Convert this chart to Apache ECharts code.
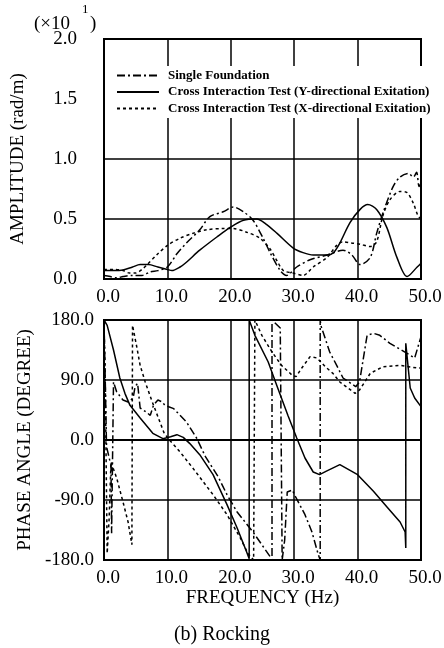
<!DOCTYPE html>
<html><head><meta charset="utf-8">
<script src="https://cdn.jsdelivr.net/npm/echarts@6/dist/echarts.min.js"></script>
<style>html,body{margin:0;padding:0;background:#fff}#c{width:444px;height:648px}</style>
</head><body><div id="c"></div>
<script>
const seriesNames = ['Single Foundation', 'Cross Interaction Test (Y-directional Exitation)', 'Cross Interaction Test (X-directional Exitation)'];

// ---- Amplitude (x10 rad/m) ----
const ampFreqSingle = [0, 1, 2, 3, 4.5, 6, 7.3, 8.5, 10, 11.5, 13, 15.1, 16.7, 18.8, 20.4, 22, 23.5, 25, 26.2, 27.8, 28.8, 30.4, 32.5, 35.2, 37.7, 39.1, 40.4, 42, 43, 44, 45.6, 46.7, 48, 48.8, 49.3, 49.7, 50];
const ampSingle     = [0.03, 0.02, 0.01, 0.02, 0.03, 0.03, 0.06, 0.07, 0.10, 0.21, 0.30, 0.41, 0.52, 0.56, 0.60, 0.56, 0.49, 0.35, 0.22, 0.07, 0.03, 0.10, 0.16, 0.20, 0.24, 0.20, 0.12, 0.18, 0.38, 0.55, 0.77, 0.85, 0.88, 0.85, 0.89, 0.77, 0.80];

const ampFreqY = [0, 1.5, 3, 4.5, 5.7, 7, 8.5, 10, 10.7, 12, 13, 15.1, 17.8, 19.9, 22, 24.1, 25.5, 27.3, 29.8, 31.4, 33, 35.2, 36.2, 37.2, 38.8, 40.4, 41.6, 43, 44.6, 46.2, 47.8, 49.4, 50];
const ampY     = [0.07, 0.07, 0.075, 0.10, 0.12, 0.12, 0.10, 0.08, 0.07, 0.10, 0.14, 0.24, 0.35, 0.43, 0.49, 0.50, 0.46, 0.38, 0.26, 0.22, 0.20, 0.20, 0.22, 0.30, 0.47, 0.58, 0.62, 0.58, 0.43, 0.18, 0.02, 0.10, 0.13];

const ampFreqX = [0, 1.5, 3, 4, 5, 6, 6.8, 8.3, 10, 12, 14, 16.2, 18.8, 20.4, 22.5, 24.6, 26.2, 27.3, 28.3, 29.8, 31.4, 33, 35.2, 36.7, 37.7, 39, 40.4, 42, 43, 44, 45.1, 46.7, 47.8, 48.8, 49.5, 50];
const ampX     = [0.08, 0.08, 0.07, 0.05, 0.05, 0.08, 0.12, 0.20, 0.28, 0.34, 0.38, 0.41, 0.42, 0.42, 0.39, 0.34, 0.25, 0.15, 0.07, 0.05, 0.03, 0.10, 0.18, 0.28, 0.31, 0.30, 0.29, 0.27, 0.31, 0.53, 0.66, 0.73, 0.72, 0.63, 0.53, 0.50];

// ---- Phase angle (degree) ----
const phFreqSingle = [0, 0.2, 0.4, 0.9, 1.1, 1.2, 1.4, 1.5, 2, 3, 3.8, 4.6, 4.9, 5.3, 5.7, 6.5, 7.3, 7.8, 8.5, 9.2, 9.6, 11, 13, 14.6, 16, 18, 19.4, 21, 23.5, 24.6, 26.2, 26.5, 26.5, 27.8, 28.1, 28.1, 28.5, 28.9, 29.7, 30.2, 31.7, 32.8, 33.8, 34.1, 34.1, 34.2, 35.6, 36.7, 37.7, 39.7, 40.3, 41.5, 42.5, 43.5, 45.1, 47.8, 49, 50];
const phSingle     = [180, 90, -10, -30, -35, -140, -140, 87, 72, 60, 57, 63, 80, 85, 48, 43, 37, 52, 60, 57, 52, 47, 27, 3, -25, -55, -82, -108, -138, -153, -175, -180, 180, 168, 165, -180, -150, -78, -75, -85, -112, -138, -172, -180, 180, 172, 132, 112, 93, 80, 87, 157, 160, 157, 145, 130, 123, 155];

const phFreqY = [0, 0.5, 1.5, 2.5, 3.3, 4.1, 5.7, 7.7, 9.3, 10.5, 11.5, 12.5, 13.5, 15.1, 17.2, 19.4, 21, 22.5, 22.9, 22.9, 23.8, 25.9, 27.4, 29, 30.4, 31.7, 33, 34, 35, 37.2, 40, 42.5, 44.6, 46.7, 47.5, 47.6, 47.6, 48.3, 49, 50];
const phY     = [180, 172, 135, 93, 70, 52, 33, 10, 2, 5, 8, 4, -5, -22, -52, -97, -132, -168, -178, 180, 157, 117, 78, 37, 3, -27, -48, -52, -47, -37, -52, -77, -100, -123, -138, -162, 145, 78, 63, 50];

const phFreqX = [0, 0.2, 0.3, 0.5, 0.8, 1.1, 2, 3, 3.8, 4.4, 4.5, 4.6, 5.2, 5.7, 6.5, 7.5, 8.5, 9.5, 10.5, 12, 14, 17.2, 19.4, 21.5, 22.7, 23.6, 23.8, 23.8, 24.9, 26.5, 28, 29.7, 30.3, 31.2, 32.5, 33.6, 34.9, 36.1, 37.2, 39.6, 40.3, 42, 44, 46.7, 49.4, 50];
const phX     = [178, 90, 0, -170, -120, -33, -57, -93, -123, -157, 172, 170, 138, 112, 87, 60, 35, 10, -2, -18, -42, -82, -112, -147, -170, -180, -180, 180, 157, 132, 112, 97, 95, 108, 125, 123, 110, 100, 87, 70, 75, 100, 110, 112, 108, 108];

const zip = (xs, ys) => xs.map((x, i) => [x, ys[i]]);
const FONT = 'Liberation Serif';
const lineStyles = [
  { color: '#000', width: 1.5, type: [8, 3, 2, 3] },
  { color: '#000', width: 1.5, type: 'solid' },
  { color: '#000', width: 1.5, type: [3, 3] }
];

const chart = echarts.init(document.getElementById('c'), null, { renderer: 'canvas' });

function xAxisCfg(gi, extra) {
  return Object.assign({
    gridIndex: gi, type: 'value', min: 0, max: 50, interval: 10,
    axisLine: { show: true, lineStyle: { color: '#000', width: 2 } },
    axisTick: { show: false },
    axisLabel: { color: '#000', fontFamily: FONT, fontSize: 19, margin: 9, padding: [0, 0, 0, 8],
      formatter: v => v.toFixed(1) },
    splitLine: { show: true, lineStyle: { color: '#000', width: 1.5 } }
  }, extra);
}

function mkSeries(i, xi, data, smooth) {
  return { name: seriesNames[i], type: 'line', xAxisIndex: xi, yAxisIndex: xi, symbol: 'none',
    smooth: smooth, clip: true, lineStyle: lineStyles[i], itemStyle: { color: '#000' }, data: data };
}

const option = {
  backgroundColor: '#fff',
  animation: false,
  grid: [
    { left: 104, top: 39, width: 317, height: 240, show: true, borderColor: '#000', borderWidth: 2, outerBoundsMode: 'none' },
    { left: 104, top: 320, width: 317, height: 240, show: true, borderColor: '#000', borderWidth: 2, outerBoundsMode: 'none' }
  ],
  legend: {
    data: seriesNames,
    orient: 'vertical', left: 112, top: 66,
    padding: [3, 10, 3, 4], itemGap: 3.5, itemWidth: 42, itemHeight: 13,
    backgroundColor: '#fff',
    itemStyle: { opacity: 0 },
    textStyle: { fontFamily: FONT, fontSize: 13, fontWeight: 'bold', color: '#000', padding: [0, 0, 0, 4] },
    selectedMode: false
  },
  xAxis: [
    xAxisCfg(0, {}),
    xAxisCfg(1, { name: 'FREQUENCY (Hz)', nameLocation: 'middle', nameGap: 26,
      nameTextStyle: { color: '#000', fontFamily: FONT, fontSize: 19 } })
  ],
  yAxis: [
    { gridIndex: 0, type: 'value', min: 0, max: 2, interval: 0.5,
      name: 'AMPLITUDE (rad/m)', nameLocation: 'middle', nameGap: 76, nameRotate: 90,
      nameTextStyle: { color: '#000', fontFamily: FONT, fontSize: 19 },
      axisLine: { show: true, lineStyle: { color: '#000', width: 2 } },
      axisTick: { show: false },
      axisLabel: { color: '#000', fontFamily: FONT, fontSize: 19, margin: 27, formatter: v => v.toFixed(1) },
      splitLine: { show: true, lineStyle: { color: ['#000', '#000', '#000', 'rgba(0,0,0,0)', '#000'], width: 1.5 } } },
    { gridIndex: 1, type: 'value', min: -180, max: 180, interval: 90,
      name: 'PHASE ANGLE (DEGREE)', nameLocation: 'middle', nameGap: 67, nameRotate: 90,
      nameTextStyle: { color: '#000', fontFamily: FONT, fontSize: 19 },
      axisLine: { show: true, lineStyle: { color: '#000', width: 2 } },
      axisTick: { show: false },
      axisLabel: { color: '#000', fontFamily: FONT, fontSize: 19, margin: 10, formatter: v => v.toFixed(1) },
      splitLine: { show: true, lineStyle: { color: '#000', width: 1.5 } } }
  ],
  graphic: [
    { type: 'text', left: 34, top: 15, style: { text: '(×10', font: '19px "Liberation Serif"', fill: '#000' } },
    { type: 'text', left: 82, top: 3, style: { text: '1', font: '13px "Liberation Serif"', fill: '#000' } },
    { type: 'text', left: 90, top: 15, style: { text: ')', font: '19px "Liberation Serif"', fill: '#000' } },
    { type: 'text', left: 'center', top: 625, style: { text: '(b) Rocking', font: '20px "Liberation Serif"', fill: '#000' } }
  ],
  series: [
    mkSeries(0, 0, zip(ampFreqSingle, ampSingle), 0.3),
    mkSeries(1, 0, zip(ampFreqY, ampY), 0.3),
    mkSeries(2, 0, zip(ampFreqX, ampX), 0.3),
    mkSeries(0, 1, zip(phFreqSingle, phSingle), false),
    mkSeries(1, 1, zip(phFreqY, phY), false),
    mkSeries(2, 1, zip(phFreqX, phX), false)
  ]
};
chart.setOption(option);
</script></body></html>
